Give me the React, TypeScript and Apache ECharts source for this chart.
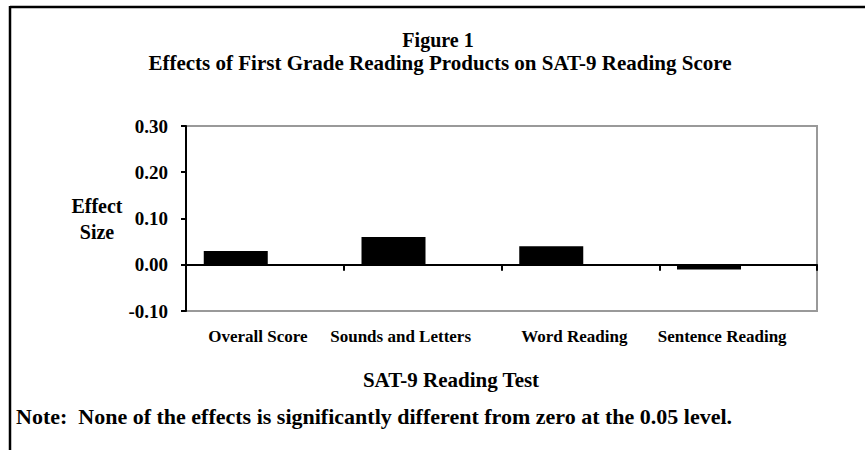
import React, { useEffect, useRef } from "react";
import * as echarts from "echarts";

const categories = ["Overall Score", "Sounds and Letters", "Word Reading", "Sentence Reading"];
const effectSizes = [0.03, 0.06, 0.04, -0.01];
const yTicks = [-0.1, 0.0, 0.1, 0.2, 0.3];
const figureLabel = "Figure 1";
const chartTitle = "Effects of First Grade Reading Products on SAT-9 Reading Score";
const xAxisTitle = "SAT-9 Reading Test";
const yAxisTitle = "Effect\nSize";
const noteText = "Note:  None of the effects is significantly different from zero at the 0.05 level.";

const FONT = "'Liberation Serif', 'Times New Roman', serif";

export default function App() {
  const ref = useRef<HTMLDivElement>(null);
  useEffect(() => {
    if (!ref.current) return;
    const chart = echarts.init(ref.current, undefined, { renderer: "svg" });
    // horizontal nudges of the category labels (px), as laid out in the original figure
    const labelShift = [-7, -22, -6, -16];
    const rich: Record<string, any> = {};
    labelShift.forEach((s, i) => {
      rich["c" + i] = {
        fontFamily: FONT,
        fontWeight: "bold",
        fontSize: 17,
        color: "#000",
        padding: s < 0 ? [0, -2 * s, 0, 0] : [0, 0, 0, 2 * s],
      };
    });
    chart.setOption({
      animation: false,
      backgroundColor: "#ffffff",
      textStyle: { fontFamily: FONT, color: "#000" },
      title: [
        {
          text: figureLabel,
          left: 433,
          textAlign: "center",
          top: 25,
          textStyle: { fontFamily: FONT, fontWeight: "bold", fontSize: 20, color: "#000" },
        },
        {
          text: chartTitle,
          left: 435,
          textAlign: "center",
          top: 47,
          textStyle: { fontFamily: FONT, fontWeight: "bold", fontSize: 21, color: "#000" },
        },
        {
          text: xAxisTitle,
          left: 446,
          textAlign: "center",
          top: 364,
          textStyle: { fontFamily: FONT, fontWeight: "bold", fontSize: 21, color: "#000" },
        },
        {
          text: noteText,
          left: 11,
          top: 400,
          textStyle: { fontFamily: FONT, fontWeight: "bold", fontSize: 22, color: "#000" },
        },
      ],
      graphic: [
        { type: "line", shape: { x1: 10, y1: 7, x2: 865, y2: 7 }, style: { stroke: "#000", lineWidth: 2.5 } },
        { type: "line", shape: { x1: 10, y1: 6, x2: 10, y2: 450 }, style: { stroke: "#000", lineWidth: 2.5 } },
      ],
      grid: {
        left: 186,
        right: 48,
        top: 126,
        bottom: 139,
        show: true,
        borderColor: "#999",
        borderWidth: 2,
        backgroundColor: "transparent",
      },
      xAxis: {
        type: "category",
        data: categories,
        axisLine: { onZero: true, lineStyle: { color: "#000", width: 2 } },
        axisTick: { show: true, interval: 0, length: 6, lineStyle: { color: "#000", width: 2 } },
        axisLabel: {
          interval: 0,
          hideOverlap: false,
          margin: 17,
          fontFamily: FONT,
          fontWeight: "bold",
          fontSize: 17,
          color: "#000",
          formatter: (v: string, i: number) => `{c${i}|${v}}`,
          rich,
        },
        splitLine: { show: false },
      },
      yAxis: {
        type: "value",
        min: yTicks[0],
        max: yTicks[yTicks.length - 1],
        interval: 0.1,
        name: yAxisTitle,
        nameLocation: "middle",
        nameRotate: 0,
        nameGap: 88,
        nameTextStyle: {
          fontFamily: FONT,
          fontWeight: "bold",
          fontSize: 20,
          lineHeight: 26,
          align: "center",
          verticalAlign: "middle",
          color: "#000",
        },
        axisLine: { show: true, lineStyle: { color: "#000", width: 2 } },
        axisTick: { show: true, length: 5, lineStyle: { color: "#000", width: 2 } },
        axisLabel: {
          margin: 18,
          fontFamily: FONT,
          fontWeight: "bold",
          fontSize: 19,
          color: "#000",
          formatter: (v: number) => v.toFixed(2),
        },
        splitLine: { show: false },
      },
      series: [
        {
          type: "bar",
          name: "Effect Size",
          data: effectSizes,
          barWidth: 64,
          barGap: "-9%",
          itemStyle: { color: "#000" },
        },
        {
          type: "bar",
          name: "",
          data: categories.map(() => null),
          barWidth: 64,
          silent: true,
        },
      ],
    });
    return () => chart.dispose();
  }, []);
  return (
    <div
      ref={ref}
      style={{ position: "fixed", left: 0, top: 0, width: 865, height: 450 }}
    />
  );
}
